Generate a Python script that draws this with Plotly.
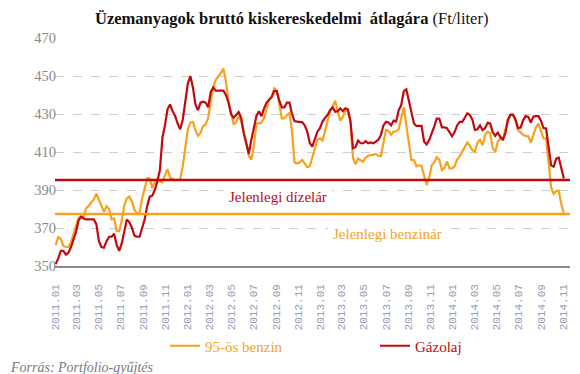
import datetime as dt
import plotly.graph_objects as go

# ---- data (weekly average retail prices, Ft/liter) ----
start_date = "2011-01-03"
benzin = [
    361, 365.5, 364, 360.5, 360, 360, 362.5, 367, 372, 375.5,
    375.8, 376, 380.5, 381.6, 383.5, 385, 388, 385, 382, 378.5,
    381.5, 380, 374.5, 375, 368.4, 368.4, 374, 382, 385.5, 386.5,
    384, 379.5, 377.7, 377.7, 385.6, 390.5, 396.2, 396, 391, 394,
    396, 394.5, 394, 398, 401, 396.5, 396, 395.3, 395.3, 395.5,
    402.5, 413.5, 422, 425.5, 425.9, 421.5, 418.5, 420, 423.7, 424.5,
    428, 436, 444, 448, 449.6, 451.5, 454, 447, 437, 430,
    424.7, 425.5, 429, 426, 421, 415, 408, 406, 413.5, 425.1,
    425.1, 425.5, 428, 433.5, 437.5, 439, 443.5, 442.5, 434.5, 427.7,
    427.7, 429.5, 430.5, 421, 404.5, 404, 404.5, 405.8, 404, 402,
    402.5, 407, 412.5, 416.5, 417.2, 416, 421, 426.5, 431.3, 434,
    437, 431.5, 426.5, 428.4, 432.1, 431.5, 425.5, 407, 403.5, 406.5,
    405.5, 404.9, 407, 408, 408.4, 408.5, 409, 407.9, 407.9, 415.5,
    421.6, 421.2, 419, 420.8, 420.8, 422, 428, 433.5, 424, 414,
    405.8, 405.8, 402.5, 403, 402.7, 397.5, 392.6, 396.5, 403, 404.7,
    407.3, 406, 400.5, 401.5, 405, 401.4, 401.4, 402.5, 406, 407.7,
    410, 413, 415, 413.3, 411, 410.2, 415, 416.5, 413.5, 419,
    420.7, 420, 412, 410, 415.5, 417.2, 416.8, 422, 427, 429.8,
    429.8, 426.5, 421.5, 420.2, 419, 418.4, 418.4, 414.9, 418.6, 423,
    425, 420.5, 417.2, 417.2, 406, 391.5, 388, 389.5, 389.6, 382.5,
    378,
]
gazolaj = [
    351, 354, 358, 358, 356, 357, 360, 364, 368, 374,
    376, 375, 374.5, 374.5, 374.5, 374.5, 372, 363, 360, 359.6,
    363, 365.4, 365.4, 367, 361, 358, 362, 369, 374.5, 373,
    370, 366, 365.4, 365.4, 370, 374.5, 381.5, 386.5, 387, 390,
    394.5, 400.5, 417.5, 424, 432.5, 435, 431.5, 429, 425, 422,
    427, 438, 446, 450, 444, 435, 432, 436, 436.5, 436,
    433.5, 441.5, 444, 442.3, 442.3, 442.3, 442.3, 440, 436, 430,
    428, 429.5, 431, 428, 420, 414.6, 409, 416.5, 423.5, 429,
    431.5, 428.8, 433, 436, 437.5, 439, 442, 442, 437, 433.5,
    433.5, 436, 436, 430, 426.3, 425.8, 425.7, 425.7, 424, 420.7,
    414.7, 412.8, 417, 420.7, 422.5, 426, 428, 429.5, 432, 433.5,
    431.2, 431.5, 433, 431.5, 433, 432.5, 426.5, 412, 412.5, 416,
    414.6, 414.6, 415.7, 414.6, 415, 414.6, 415.5, 416.5, 419, 424,
    425.9, 425.5, 424, 426.5, 426, 432, 434.7, 442, 443, 437,
    429.5, 425, 423.7, 423.7, 423.7, 415.4, 414, 416.3, 419.5, 423.5,
    427.7, 427.5, 423, 423, 422.5, 420.5, 418.3, 420.5, 424, 425.9,
    425.9, 428, 430.4, 429.5, 427, 421.6, 422, 424, 421.5, 422.5,
    425.4, 425, 420.5, 418.5, 420.2, 418, 416.3, 420, 427, 429.5,
    429.5, 427, 422.5, 422.8, 426.8, 428.9, 428.5, 425.5, 428.6, 428.9,
    428.9, 426.5, 422.5, 422.5, 414, 403, 402.3, 406.5, 407, 402,
    396,
]
jelenlegi_dizel = 395.3
jelenlegi_benzin = 377.4

tick_dates = ["2011-01-01", "2011-03-01", "2011-05-01", "2011-07-01", "2011-09-01", "2011-11-01",
              "2012-01-01", "2012-03-01", "2012-05-01", "2012-07-01", "2012-09-01", "2012-11-01",
              "2013-01-01", "2013-03-01", "2013-05-01", "2013-07-01", "2013-09-01", "2013-11-01",
              "2014-01-01", "2014-03-01", "2014-05-01", "2014-07-01", "2014-09-01", "2014-11-01"]
tick_labels = [d[:7].replace("-", ".") for d in tick_dates]
y_ticks = [350, 370, 390, 410, 430, 450, 470]

ORANGE = "#F8A11D"
RED = "#C00A10"

d0 = dt.date.fromisoformat(start_date)
dates = [d0 + dt.timedelta(days=7 * i) for i in range(len(benzin))]

serif = "Liberation Serif, DejaVu Serif, serif"

fig = go.Figure()
fig.add_trace(go.Scatter(x=dates, y=benzin, mode="lines",
                         line=dict(color=ORANGE, width=2.2),
                         name=f'<span style="color:{ORANGE}">95-ös benzin</span>', legend="legend"))
fig.add_trace(go.Scatter(x=dates, y=gazolaj, mode="lines",
                         line=dict(color=RED, width=2.2),
                         name=f'<span style="color:{RED}">Gázolaj</span>', legend="legend2"))

fig.add_shape(type="line", xref="paper", x0=0, x1=1, yref="y",
              y0=jelenlegi_dizel, y1=jelenlegi_dizel, line=dict(color=RED, width=2.5), layer="above")
fig.add_shape(type="line", xref="paper", x0=0, x1=1, yref="y",
              y0=jelenlegi_benzin, y1=jelenlegi_benzin, line=dict(color=ORANGE, width=2.5), layer="above")

fig.add_annotation(x="2012-09-06", y=386.3, xref="x", yref="y", text="Jelenlegi dízelár",
                   showarrow=False, font=dict(family=serif, size=15, color=RED),
                   bgcolor="white", borderpad=4)
fig.add_annotation(x="2013-07-04", y=366.8, xref="x", yref="y", text="Jelenlegi benzinár",
                   showarrow=False, font=dict(family=serif, size=15, color=ORANGE),
                   bgcolor="white", borderpad=4)
fig.add_annotation(x=(8 - 55) / 515, y=(266 - 367) / 228, xref="paper", yref="paper",
                   xanchor="left", yanchor="middle",
                   text="<i>Forrás: Portfolio-gyűjtés</i>", showarrow=False,
                   font=dict(family=serif, size=14, color="#7a7a7a"))

legend_common = dict(orientation="h", xref="container", yref="container", xanchor="left",
                     yanchor="middle", font=dict(family=serif, size=15),
                     bgcolor="rgba(0,0,0,0)", itemclick=False, itemdoubleclick=False)

fig.update_layout(
    width=580, height=374,
    margin=dict(l=55, r=10, t=38, b=108, autoexpand=False),
    paper_bgcolor="white", plot_bgcolor="white",
    title=dict(text="<b>Üzemanyagok bruttó kiskereskedelmi  átlagára</b> (Ft/liter)",
               x=0.503, xanchor="center", y=1 - 18 / 374, yanchor="middle", xref="container", yref="container",
               font=dict(family=serif, size=16.5, color="#111111")),
    showlegend=True,
    legend=dict(x=165 / 580, y=1 - 346 / 374, **legend_common),
    legend2=dict(x=375 / 580, y=1 - 346 / 374, **legend_common),
    xaxis=dict(type="date", range=["2011-01-01", "2014-11-20"],
               tickmode="array", tickvals=tick_dates, ticktext=tick_labels,
               tickangle=-90, tickfont=dict(family="Liberation Mono, monospace", size=11, color="#9a9ab8"),
               showgrid=False, showline=True, linecolor="#8c8c8c", linewidth=1.5,
               ticks="", ticklabelstandoff=12, zeroline=False, automargin=False),
    yaxis=dict(range=[350, 470], tickmode="array", tickvals=y_ticks,
               tickfont=dict(family=serif, size=14.5, color="#8a8a8a"),
               showgrid=True, gridcolor="#cfcfcf", griddash="dash", gridwidth=1,
               zeroline=False, showline=False, ticks="", ticklabelstandoff=-2, automargin=False),
)

fig.write_html("out.html", config={"displayModeBar": False},
               post_script="document.body.style.margin='0';")
